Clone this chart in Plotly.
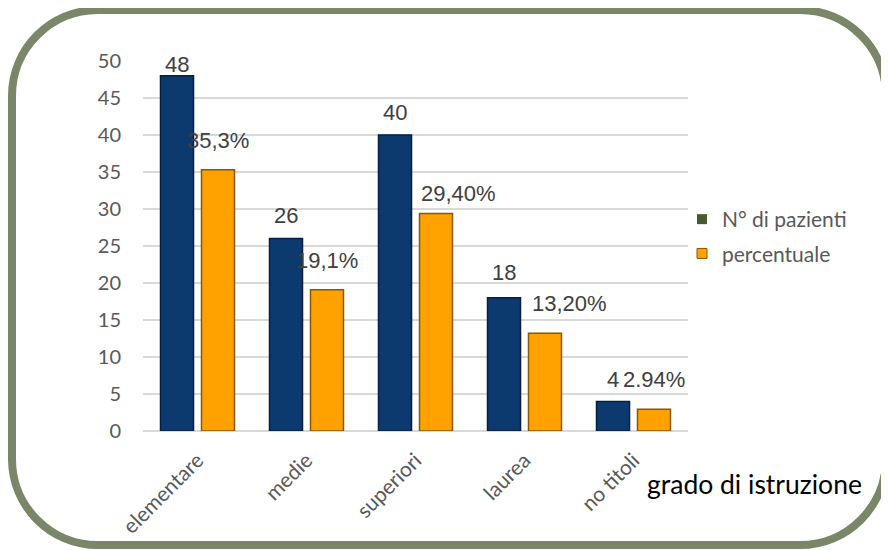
import plotly.graph_objects as go

categories = ["elementare", "medie", "superiori", "laurea", "no titoli"]
pazienti = [48, 26, 40, 18, 4]
percentuale = [35.3, 19.1, 29.4, 13.2, 2.94]
pazienti_labels = ["48", "26", "40", "18", "4"]
percent_labels = ["35,3%", "19,1%", "29,40%", "13,20%", "2.94%"]
y_ticks = [0, 5, 10, 15, 20, 25, 30, 35, 40, 45, 50]

# label placement (pixels)
paz_lift = [11, 23, 23, 25, 22]
perc_lift = [29, 29, 20, 30, 30]
perc_nudge = [0, 0, 22, 24, 0]

BLUE = "#0c3a6f"
ORANGE = "#ffa200"
GRAY = "#595959"
TICKFONT = "Lato, 'Open Sans', sans-serif"
LABELFONT = "'Liberation Sans', Arial, sans-serif"

fig = go.Figure()
fig.add_trace(go.Bar(
    x=categories, y=pazienti, name="N° di pazienti",
    marker=dict(color=BLUE, line=dict(color="#061f40", width=1.5)),
    showlegend=False,
))
fig.add_trace(go.Bar(
    x=categories, y=percentuale, name="percentuale",
    marker=dict(color=ORANGE, line=dict(color="#8a5800", width=1.5)),
    showlegend=False,
))
# legend swatches
fig.add_trace(go.Scatter(
    x=[None], y=[None], mode="markers", name="N° di pazienti", legendgroup="a",
    marker=dict(symbol="square", size=10, color="#4a5a2c"),
))
fig.add_trace(go.Scatter(
    x=[None], y=[None], mode="markers", name="percentuale", legendgroup="b",
    marker=dict(symbol="square", size=10, color=ORANGE, line=dict(color="#8a5800", width=1)),
))

annotations = []
for i, c in enumerate(categories):
    annotations.append(dict(
        x=c, y=pazienti[i], xref="x", yref="y", text=pazienti_labels[i],
        showarrow=False, xshift=-20.5, yshift=paz_lift[i], yanchor="middle",
        font=dict(family=LABELFONT, size=22, color="#404040"),
    ))
    annotations.append(dict(
        x=c, y=percentuale[i], xref="x", yref="y", text=percent_labels[i],
        showarrow=False, xshift=20.5 + perc_nudge[i], yshift=perc_lift[i], yanchor="middle",
        font=dict(family=LABELFONT, size=22, color="#404040"),
    ))

# page has an 8px body margin; figure sized so it fills the 889x550 window
OFF = 8
SW, SH = 889, 550
W, H = SW - OFF, SH - OFF
PL, PR, PT, PB = 143, 688, 61, 431  # plot area in screen pixels
pw, ph = PR - PL, PB - PT


def px(x):
    return (x - PL) / pw


def py(y):
    return (PB - y) / ph


annotations.append(dict(
    x=px(645), y=py(484), xref="paper", yref="paper", text="grado di istruzione",
    showarrow=False, xanchor="left", yanchor="middle",
    font=dict(family=TICKFONT, size=26.5, color="#000000"),
))

# rounded frame (screen pixels)
l, t, r, b, rad = 12, 10, 886, 545, 86
k = 0.5523 * rad


def P(x, y):
    return f"{px(x):.5f},{py(y):.5f}"


path = (
    f"M {P(l + rad, t)} L {P(r - rad, t)} "
    f"C {P(r - rad + k, t)} {P(r, t + rad - k)} {P(r, t + rad)} "
    f"L {P(r, b - rad)} "
    f"C {P(r, b - rad + k)} {P(r - rad + k, b)} {P(r - rad, b)} "
    f"L {P(l + rad, b)} "
    f"C {P(l + rad - k, b)} {P(l, b - rad + k)} {P(l, b - rad)} "
    f"L {P(l, t + rad)} "
    f"C {P(l, t + rad - k)} {P(l + rad - k, t)} {P(l + rad, t)} Z"
)

fig.update_layout(
    width=W, height=H,
    margin=dict(l=PL - OFF, r=SW - PR, t=PT - OFF, b=SH - PB),
    paper_bgcolor="white", plot_bgcolor="white",
    barmode="group", bargap=0.248, bargroupgap=0.195,
    annotations=annotations,
    shapes=[dict(type="path", path=path, xref="paper", yref="paper",
                 line=dict(color="#7a8667", width=8), layer="above")],
    legend=dict(
        x=px(682), y=py(199), xanchor="left", yanchor="top",
        font=dict(family=TICKFONT, size=21, color=GRAY),
        tracegroupgap=4, traceorder="grouped",
        bgcolor="rgba(0,0,0,0)",
    ),
    xaxis=dict(
        tickangle=-45, tickfont=dict(family=TICKFONT, size=21, color=GRAY),
        showgrid=False, showline=False, ticks="", ticklabelstandoff=12,
    ),
    yaxis=dict(
        range=[0, 50], tickvals=y_ticks, showgrid=True, gridcolor="#d9d9d9", gridwidth=1.5,
        zeroline=True, zerolinecolor="#d9d9d9", zerolinewidth=1.5,
        tickfont=dict(family=TICKFONT, size=20, color=GRAY), ticklabelstandoff=21,
    ),
)

fig.write_html("out.html")
